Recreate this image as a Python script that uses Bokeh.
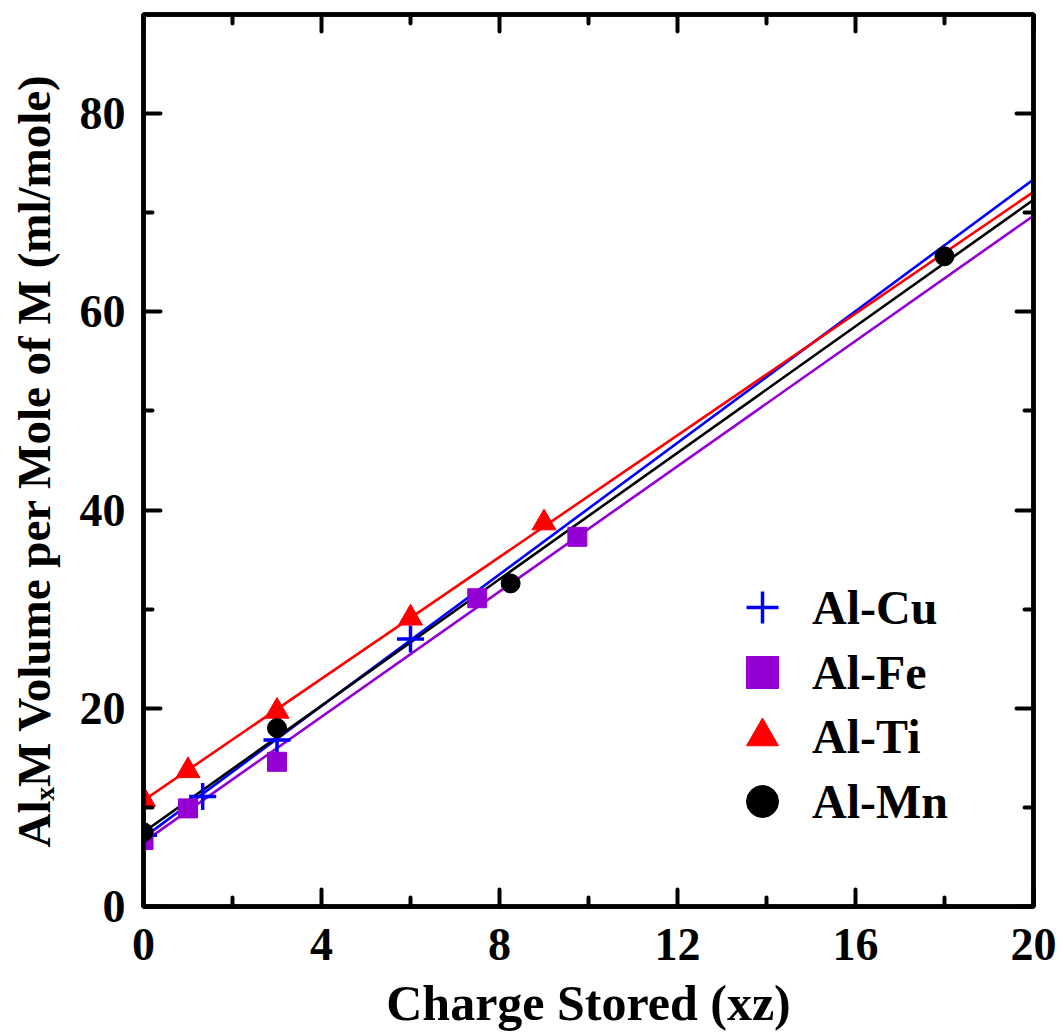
from bokeh.plotting import figure
from bokeh.models import LinearAxis, FixedTicker, Legend, LegendItem, Range1d
from bokeh.embed import file_html
from bokeh.resources import INLINE

# ---------------- data ----------------
series_names = ["Al-Cu", "Al-Fe", "Al-Ti", "Al-Mn"]

cu_x = [0.0, 1.33, 3.0, 6.0]
cu_y = [7.2, 11.1, 16.8, 27.0]

fe_x = [0.0, 1.0, 3.0, 7.5, 9.75]
fe_y = [6.7, 9.9, 14.6, 31.1, 37.3]

ti_x = [0.0, 1.0, 3.0, 6.0, 9.0]
ti_y = [10.8, 13.7, 19.7, 29.1, 38.7]

mn_x = [0.0, 3.0, 8.25, 18.0]
mn_y = [7.5, 18.0, 32.6, 65.6]

# linear fit lines (intercept, slope)
fit_intercepts = [6.95, 6.5, 10.7, 7.5]
fit_slopes = [3.32, 3.16, 3.07, 3.19]

x_major = [0, 4, 8, 12, 16, 20]
x_minor = [2, 6, 10, 14, 18]
y_major = [0, 20, 40, 60, 80]
y_minor = [10, 30, 50, 70]

X_START, X_END = 0, 20
Y_START, Y_END = 0, 90

x_title = "Charge Stored (xz)"
y_title = "Al\u2093M Volume per Mole of M (ml/mole)"

# ---------------- layout constants (page pixels) ----------------
W, H = 1062, 1033
FX0, FX1 = 143, 1033   # frame left/right
FY1, FY0 = 14, 907     # frame top/bottom

FONT = "Liberation Serif"

p = figure(width=W, height=H, output_backend="svg", toolbar_location=None,
           x_range=Range1d(X_START, X_END), y_range=Range1d(Y_START, Y_END),
           min_border_left=FX0, min_border_right=W - FX1,
           min_border_top=FY1, min_border_bottom=H - FY0)
p.xgrid.visible = False
p.ygrid.visible = False
p.outline_line_color = "black"
p.outline_line_width = 4.5
p.background_fill_color = "white"
p.border_fill_color = "white"


def style_axis(ax, major, minor, labels):
    ax.ticker = FixedTicker(ticks=major, minor_ticks=minor)
    ax.axis_line_color = "black"
    ax.axis_line_width = 4.5
    ax.major_tick_in = 17
    ax.major_tick_out = 0
    ax.minor_tick_in = 9
    ax.minor_tick_out = 0
    ax.major_tick_line_width = 4
    ax.minor_tick_line_width = 4
    ax.major_tick_line_cap = "round"
    ax.minor_tick_line_cap = "round"
    ax.major_tick_line_color = "black"
    ax.minor_tick_line_color = "black"
    if labels:
        ax.major_label_text_font = FONT
        ax.major_label_text_font_style = "bold"
        ax.major_label_text_font_size = "46px"
        ax.major_label_text_color = "black"
        ax.axis_label_text_font = FONT
        ax.axis_label_text_font_style = "bold"
        ax.axis_label_text_color = "black"
    else:
        ax.axis_label = None
        ax.major_label_overrides = {v: "" for v in major}
        ax.major_label_text_font_size = "1px"
        ax.major_label_standoff = 0


style_axis(p.xaxis[0], x_major, x_minor, True)
style_axis(p.yaxis[0], y_major, y_minor, True)

p.xaxis[0].axis_label = x_title
p.xaxis[0].axis_label_text_font_size = "50px"
p.xaxis[0].major_label_standoff = 22
p.xaxis[0].axis_label_standoff = 12

p.yaxis[0].axis_label = y_title
p.yaxis[0].axis_label_text_font_size = "47px"
p.yaxis[0].major_label_standoff = 18
p.yaxis[0].axis_label_standoff = 17

top_ax = LinearAxis()
right_ax = LinearAxis()
style_axis(top_ax, x_major, x_minor, False)
style_axis(right_ax, y_major, y_minor, False)
p.add_layout(top_ax, "above")
p.add_layout(right_ax, "right")

# fit lines
line_colors = ["#0000FF", "#9400D3", "#FF0000", "#000000"]
for b, m, c in zip(fit_intercepts, fit_slopes, line_colors):
    xs = [X_START, X_END]
    ys = [b + m * X_START, b + m * X_END]
    p.line(xs, ys, line_color=c, line_width=2.6)

# markers
r_cu = p.scatter(cu_x, cu_y, marker="cross", size=27, line_color="#0000FF", line_width=3.5)
r_fe = p.scatter(fe_x, fe_y, marker="square", size=19, fill_color="#9400D3", line_color="#9400D3")
r_ti = p.scatter(ti_x, ti_y, marker="triangle", size=24, fill_color="#FF0000", line_color="#FF0000")
r_mn = p.scatter(mn_x, mn_y, marker="circle", size=19, fill_color="#000000", line_color="#000000")

# legend: one single-item legend per row so the row pitch can be set freely
legend_row_centers = [608, 673, 737, 802]   # page y of each row centre
GLYPH = 80
for name, r, cy in zip(series_names, [r_cu, r_fe, r_ti, r_mn], legend_row_centers):
    lg = Legend(items=[LegendItem(label=name, renderers=[r])],
                location=(579, FY0 - (cy + GLYPH / 2)),
                glyph_width=GLYPH, glyph_height=GLYPH,
                label_standoff=10, padding=0, margin=0,
                border_line_color=None, background_fill_alpha=0,
                label_text_font=FONT, label_text_font_style="bold",
                label_text_font_size="48px", label_text_color="black")
    p.add_layout(lg)

open("out.html", "w").write(file_html(p, INLINE))
